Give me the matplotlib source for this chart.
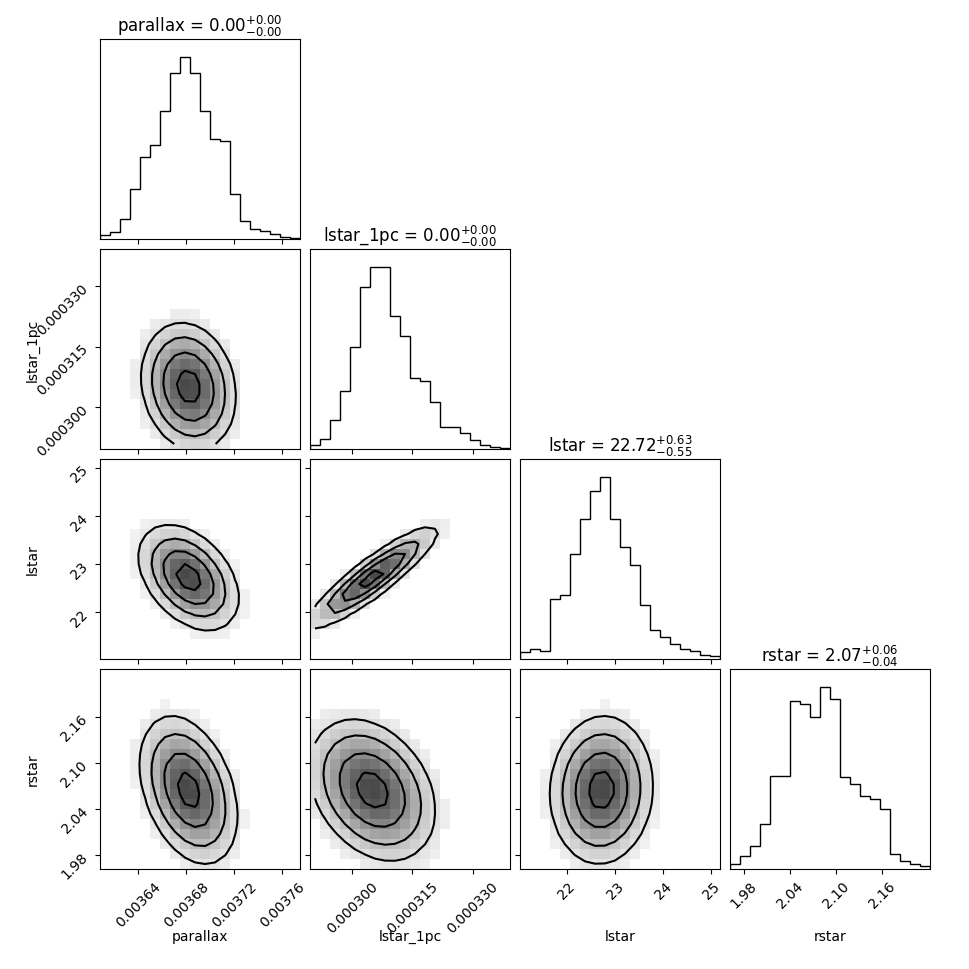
import numpy as np
import matplotlib
matplotlib.use("Agg")
import matplotlib.pyplot as plt

names = ["parallax", "lstar_1pc", "lstar", "rstar"]
titles = [r"parallax = $0.00^{+0.00}_{-0.00}$", r"lstar_1pc = $0.00^{+0.00}_{-0.00}$",
          r"lstar = $22.72^{+0.63}_{-0.55}$", r"rstar = $2.07^{+0.06}_{-0.04}$"]
ranges = [(0.003608, 0.003775), (0.0002895, 0.0003393), (21.03, 25.18), (1.962, 2.223)]
ticks = [[0.00364, 0.00368, 0.00372, 0.00376], [0.000300, 0.000315, 0.000330],
         [22, 23, 24, 25], [1.98, 2.04, 2.10, 2.16]]
ticklabels = [["0.00364", "0.00368", "0.00372", "0.00376"], ["0.000300", "0.000315", "0.000330"],
              ["22", "23", "24", "25"], ["1.98", "2.04", "2.10", "2.16"]]
hist_parallax = [4, 7, 20, 50, 82, 94, 128, 166, 182, 166, 128, 100, 98, 45, 18, 10, 8, 5, 2, 1]
hist_lstar_1pc = [4, 10, 29, 57, 101, 160, 180, 180, 132, 112, 70, 67, 47, 22, 22, 16, 9, 4, 2, 1]
hist_lstar = [7, 10, 8, 60, 64, 105, 140, 168, 182, 140, 112, 94, 54, 29, 22, 15, 10, 8, 4, 3]
hist_rstar = [5, 13, 23, 45, 93, 93, 168, 165, 152, 182, 170, 92, 85, 73, 70, 60, 15, 8, 5, 3]
hists = [hist_parallax, hist_lstar_1pc, hist_lstar, hist_rstar]
means = [0.003682, 0.000305, 22.72, 2.065]
stds = [0.000021, 0.0000085, 0.55, 0.05]
corr = np.array([[1.0, -0.15, -0.4, -0.35],
                 [-0.15, 1.0, 0.9, -0.3],
                 [-0.4, 0.9, 1.0, 0.05],
                 [-0.35, -0.3, 0.05, 1.0]])

fig, axes = plt.subplots(4, 4, figsize=(9.7, 9.7), dpi=100)
fig.subplots_adjust(left=100/970, right=930/970, bottom=100/970, top=1-40/970, wspace=0.05, hspace=0.05)
levels_sig = 1.0 - np.exp(-0.5 * np.array([0.5, 1.0, 1.5, 2.0]) ** 2)

for i in range(4):
    for j in range(4):
        ax = axes[i, j]
        if j > i:
            ax.set_axis_off()
            continue
        if i == j:
            edges = np.linspace(*ranges[i], len(hists[i]) + 1)
            ax.stairs(hists[i], edges, color="k", lw=1)
            ax.set_xlim(ranges[i])
            ax.set_ylim(0, 1.1 * max(hists[i]))
            ax.set_yticks([])
            ax.set_title(titles[i], fontsize=12)
        else:
            nb = 20
            xe = np.linspace(*ranges[j], nb + 1)
            ye = np.linspace(*ranges[i], nb + 1)
            xc = 0.5 * (xe[1:] + xe[:-1]); yc = 0.5 * (ye[1:] + ye[:-1])
            X, Y = np.meshgrid(xc, yc)
            u = (X - means[j]) / stds[j]; v = (Y - means[i]) / stds[i]
            r = corr[i, j]
            H = np.exp(-0.5 * (u**2 - 2*r*u*v + v**2) / (1 - r**2))
            Hf = np.sort(H.ravel())[::-1]
            cum = np.cumsum(Hf); cum /= cum[-1]
            lv = [Hf[np.argmin(np.abs(cum - l))] for l in levels_sig]
            lv = sorted(set(lv))
            Hm = np.ma.masked_less(H, lv[0] * 0.5)
            ax.pcolormesh(xe, ye, Hm, cmap="gray_r", vmin=0, vmax=H.max() * 1.4)
            ax.contour(X, Y, H, levels=lv, colors="k", linewidths=1.5)
            ax.set_xlim(ranges[j]); ax.set_ylim(ranges[i])
            ax.set_yticks(ticks[i])
            if j == 0:
                ax.set_yticklabels(ticklabels[i], rotation=45)
                ax.set_ylabel(names[i])
                ax.yaxis.set_label_coords(-0.3, 0.5)
            else:
                ax.set_yticklabels([])
        ax.set_xticks(ticks[j])
        if i == 3:
            ax.set_xticklabels(ticklabels[j], rotation=45)
            ax.set_xlabel(names[j])
            ax.xaxis.set_label_coords(0.5, -0.3)
        else:
            ax.set_xticklabels([])

fig.savefig("out.png", dpi=100)
